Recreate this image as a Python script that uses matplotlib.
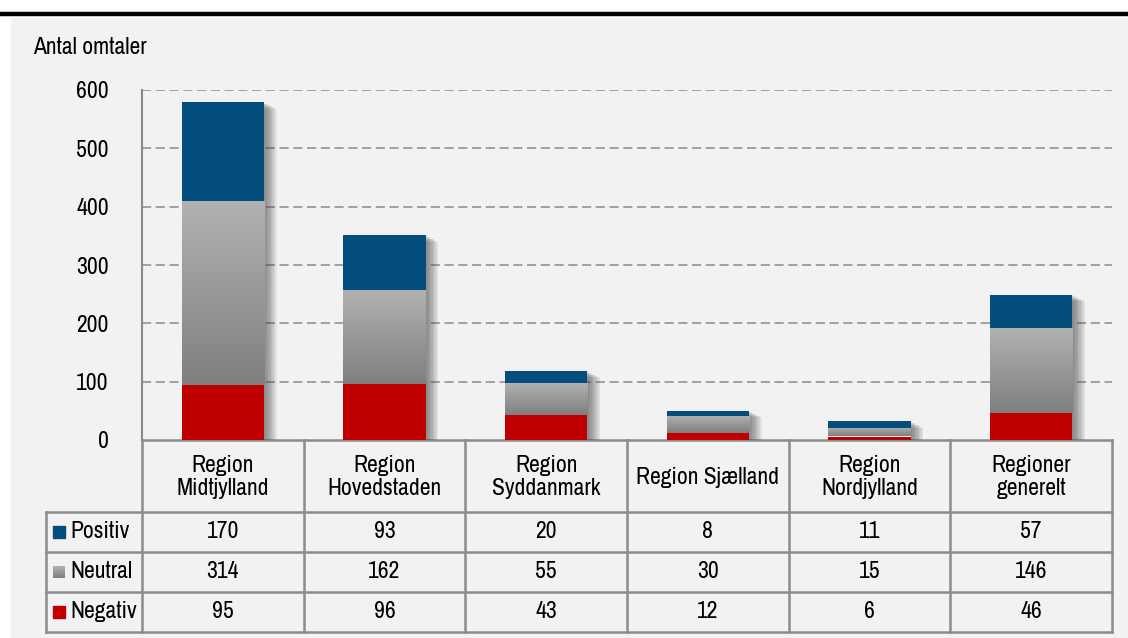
import numpy as np
import matplotlib.pyplot as plt
import matplotlib.patheffects as pe
from matplotlib import font_manager
from matplotlib.patches import Rectangle
from matplotlib.colors import LinearSegmentedColormap

regions = ["Region\nMidtjylland", "Region\nHovedstaden", "Region\nSyddanmark",
           "Region Sjælland", "Region\nNordjylland", "Regioner\ngenerelt"]
positiv = [170, 93, 20, 8, 11, 57]
neutral = [314, 162, 55, 30, 15, 146]
negativ = [95, 96, 43, 12, 6, 46]
series_names = ["Positiv", "Neutral", "Negativ"]
yticks = [0, 100, 200, 300, 400, 500, 600]

# look for a condensed family, the original uses a narrow font
names = sorted({f.name for f in font_manager.fontManager.ttflist})
narrow = [nm for nm in names if "Narrow" in nm or "Condensed" in nm]
font_list = narrow[:1] + ['Liberation Sans', 'DejaVu Sans']
plt.rcParams['font.family'] = font_list
FS = 17 if narrow else 13.5

BLUE = "#034e7d"
RED = "#c00000"
GRID = "#8a8a8a"
BG = "#f2f2f2"

W, H = 1128, 638
fig = plt.figure(figsize=(W / 100, H / 100), dpi=100)
fig.patch.set_facecolor("white")

# overlay axes in pixel coordinates for background, header bar and table
ov = fig.add_axes([0, 0, 1, 1])
ov.set_xlim(0, W)
ov.set_ylim(H, 0)
ov.axis("off")
ov.add_patch(Rectangle((11, 18), W - 11, H - 18, color=BG, zorder=0))
ov.plot([0, W], [14, 14], color="black", lw=3.2, solid_capstyle="butt", zorder=1)
ov.text(33, 47, "Antal omtaler", fontsize=FS, va="center", ha="left")

# bar axes
x0, x1, ytop, ybot = 142, 1112, 90, 440
ax = fig.add_axes([x0 / W, (H - ybot) / H, (x1 - x0) / W, (ybot - ytop) / H])
ax.set_facecolor("none")
n = len(regions)
for s in ["top", "right", "bottom"]:
    ax.spines[s].set_visible(False)
ax.spines["left"].set_color(GRID)
ax.spines["left"].set_linewidth(1.5)
ax.set_yticks(yticks)
ax.set_yticklabels([str(t) for t in yticks], fontsize=FS)
ax.tick_params(axis="y", length=0, pad=24)
ax.set_xticks([])
for t in yticks[1:]:
    ax.axhline(t, color=GRID, lw=1.1, ls=(0, (6, 3)), zorder=1)

xs = np.arange(n)
bw = 0.51
totals = np.array(positiv) + np.array(neutral) + np.array(negativ)

# soft shadows
shadow_fx = [pe.SimplePatchShadow(offset=(d, -d * 0.5), shadow_rgbFace="#444444", alpha=0.09)
             for d in range(1, 10)]
for x, tot in zip(xs, totals):
    r = Rectangle((x - bw / 2, 0), bw, tot, facecolor=BG, edgecolor="none", zorder=2)
    r.set_path_effects(shadow_fx + [pe.Normal()])
    ax.add_patch(r)

ax.bar(xs, negativ, bw, color=RED, zorder=3)
nbars = ax.bar(xs, neutral, bw, bottom=negativ, color="none", zorder=3)
ax.bar(xs, positiv, bw, bottom=np.array(negativ) + np.array(neutral), color=BLUE, zorder=3)

grad = np.linspace(0, 1, 256).reshape(-1, 1)
gcmap = LinearSegmentedColormap.from_list("g", ["#7f7f7f", "#b2b2b2"])
for b, lo, hi in zip(nbars, negativ, np.array(negativ) + np.array(neutral)):
    xl = b.get_x()
    im = ax.imshow(grad, extent=[xl, xl + bw, lo, hi], origin="lower", cmap=gcmap,
                   aspect="auto", zorder=3.5)
    im.set_clip_path(b)
ax.set_xlim(-0.5, n - 0.5)
ax.set_ylim(0, 600)

# table
lc = "#8c8c8c"
lw = 1.8
colw = (x1 - x0) / n
rows_y = [440, 512, 552, 592, 632]
ov.plot([x0, x1], [440, 440], color=lc, lw=lw, zorder=2)
for y in rows_y[1:]:
    ov.plot([46, x1], [y, y], color=lc, lw=lw, zorder=2)
ov.plot([46, 46], [512, 632], color=lc, lw=lw, zorder=2)
for i in range(n + 1):
    xx = x0 + i * colw
    ov.plot([xx, xx], [440, 632], color=lc, lw=lw, zorder=2)

for i, lab in enumerate(regions):
    ov.text(x0 + (i + 0.5) * colw, 477, lab, ha="center", va="center",
            fontsize=FS, linespacing=1.15)

table_vals = [positiv, neutral, negativ]
for r, (name, vals) in enumerate(zip(series_names, table_vals)):
    yc = (rows_y[r + 1] + rows_y[r + 2]) / 2
    for i, v in enumerate(vals):
        ov.text(x0 + (i + 0.5) * colw, yc, str(v), ha="center", va="center", fontsize=FS)
    ov.text(70, yc, name, ha="left", va="center", fontsize=FS)
    if r == 1:
        ov.imshow(grad[::-1], extent=[53, 65, yc + 6, yc - 6], cmap=gcmap, aspect="auto", zorder=3)
    else:
        ov.add_patch(Rectangle((53, yc - 6), 12, 12, color=BLUE if r == 0 else RED, zorder=3))
ov.set_xlim(0, W)
ov.set_ylim(H, 0)

fig.savefig("out.png", dpi=100, facecolor=fig.get_facecolor())
